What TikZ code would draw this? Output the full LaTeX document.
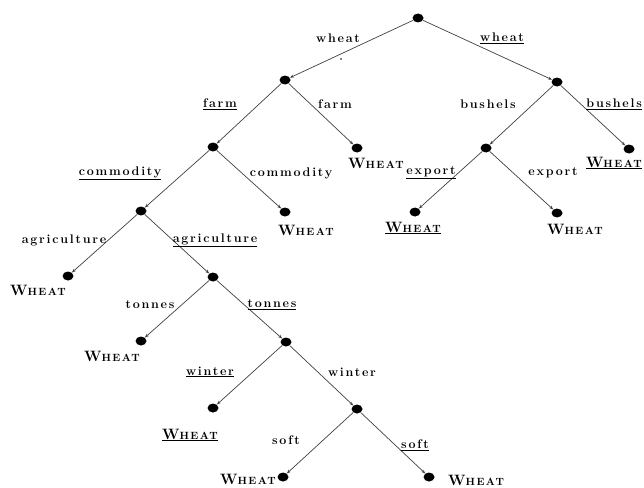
\documentclass[tikz,border=0pt]{standalone}
\usepackage{fontspec}
\setmainfont{Latin Modern Roman}
\usetikzlibrary{shapes.geometric,arrows.meta}
\newfontfamily\lblfont[LetterSpace=14]{Latin Modern Roman}
\tikzset{
  dot/.style={ellipse,fill=black,minimum width=11pt,minimum height=9pt,inner sep=0pt},
  edge/.style={draw=black!75,line width=0.7pt,-{Stealth[length=4pt,width=3pt]}},
  lbl/.style={font=\lblfont\bfseries\fontsize{12.5}{14}\selectfont,inner sep=1pt},
  wh/.style={font=\lblfont\bfseries\fontsize{15}{17}\selectfont,inner sep=1pt}
}
\newcommand{\WHT}{W{\fontsize{10.5}{12}\selectfont HEAT}}
\begin{document}
\begin{tikzpicture}[x=1pt,y=-1pt]
\useasboundingbox (0,0) rectangle (644,487);
% internal nodes
\node[dot] (r) at (418,18) {};
\node[dot] (a) at (285,80) {};
\node[dot] (b) at (557,82) {};
\node[dot] (c) at (213,147) {};
\node[dot] (al) at (357,148) {};
\node[dot] (d) at (486,148) {};
\node[dot] (bl) at (629,149) {};
\node[dot] (dl1) at (415,212) {};
\node[dot] (dl2) at (557,213) {};
\node[dot] (e) at (141,211) {};
\node[dot] (cl) at (285,212) {};
\node[dot] (el) at (68,276) {};
\node[dot] (f) at (213,277) {};
\node[dot] (fl) at (141,341) {};
\node[dot] (g) at (286,342) {};
\node[dot] (gl) at (213,408) {};
\node[dot] (h) at (357,409) {};
\node[dot] (hl1) at (283,477) {};
\node[dot] (hl2) at (429,477) {};
\fill (341,59) circle (0.8pt);
% edges
\draw[edge] (r) -- (a);
\draw[edge] (r) -- (b);
\draw[edge] (a) -- (c);
\draw[edge] (a) -- (al);
\draw[edge] (b) -- (d);
\draw[edge] (b) -- (bl);
\draw[edge] (d) -- (dl1);
\draw[edge] (d) -- (dl2);
\draw[edge] (c) -- (e);
\draw[edge] (c) -- (cl);
\draw[edge] (e) -- (el);
\draw[edge] (e) -- (f);
\draw[edge] (f) -- (fl);
\draw[edge] (f) -- (g);
\draw[edge] (g) -- (gl);
\draw[edge] (g) -- (h);
\draw[edge] (h) -- (hl1);
\draw[edge] (h) -- (hl2);
% edge labels
\node[lbl] (t1) at (338,38) {wheat};
\node[lbl] (t2) at (502,38) {\underline{wheat}};
\node[lbl] (t3) at (220,104) {\underline{farm}};
\node[lbl] (t4) at (335,104) {farm};
\node[lbl] (t5) at (488,104) {bushels};
\node[lbl,anchor=east] (t6) at (643,104) {\underline{bushels}};
\node[lbl] (t7) at (120,173) {\underline{commodity}};
\node[lbl] (t8) at (291,173) {commodity};
\node[lbl] (t9) at (431,173) {\underline{export}};
\node[lbl] (t10) at (553,173) {export};
\node[lbl] (t11) at (64,240) {agriculture};
\node[lbl] (t12) at (215,240) {\underline{agriculture}};
\node[lbl] (t13) at (150,305) {tonnes};
\node[lbl] (t14) at (272,305) {\underline{tonnes}};
\node[lbl] (t15) at (210,372) {\underline{winter}};
\node[lbl] (t16) at (352,372) {winter};
\node[lbl] (t17) at (286,440) {soft};
\node[lbl] (t18) at (415,445) {\underline{soft}};
% leaf labels
\node[wh] (w1) at (376,163) {\WHT};
\node[wh,anchor=east] (w2) at (643,163) {\underline{\WHT}};
\node[wh] (w3) at (413,228) {\underline{\WHT}};
\node[wh] (w4) at (575,229) {\WHT};
\node[wh] (w5) at (306,230) {\WHT};
\node[wh] (w6) at (38,290) {\WHT};
\node[wh] (w7) at (112,356) {\WHT};
\node[wh] (w8) at (190,435) {\underline{\WHT}};
\node[wh] (w9) at (248,479) {\WHT};
\node[wh,anchor=west] (w10) at (447,480) {\WHT};
\end{tikzpicture}
\end{document}
